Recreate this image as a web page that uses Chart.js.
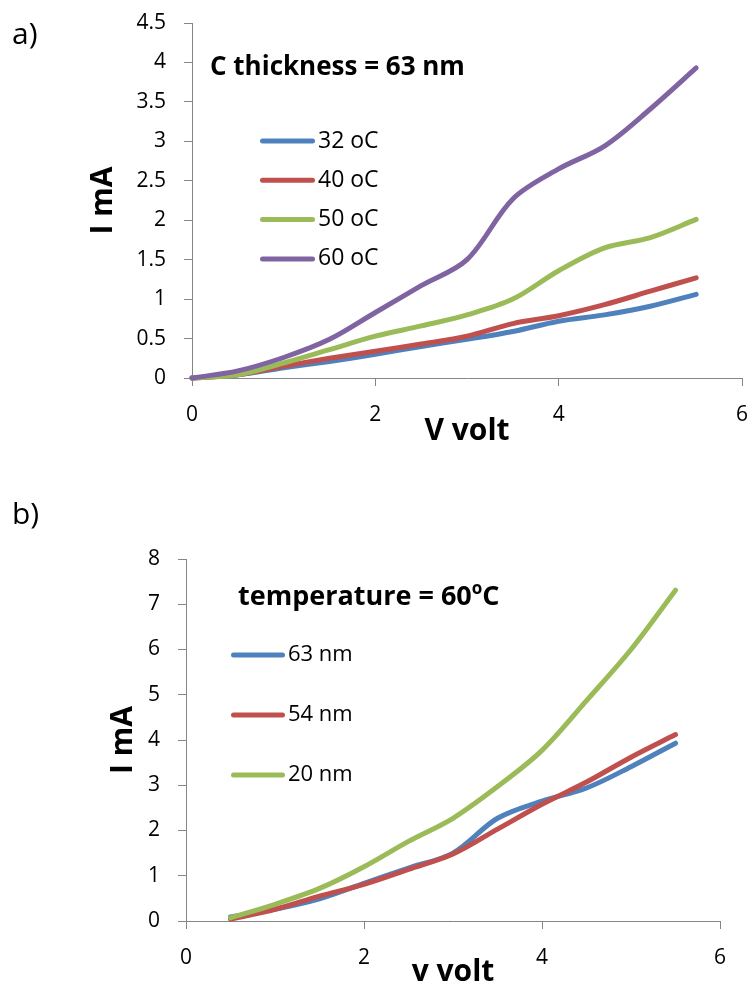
<!DOCTYPE html>
<html>
<head>
<meta charset="utf-8">
<script src="https://cdn.jsdelivr.net/npm/chart.js@4.4.0/dist/chart.umd.min.js"></script>
<style>
  html, body { margin: 0; padding: 0; background: #fff; overflow: hidden; }
  body { width: 750px; height: 985px; position: relative; }
  canvas { position: absolute; left: 0; }
  #chartA { top: 0; }
  #chartB { top: 470px; }
</style>
</head>
<body>
<canvas id="chartA" width="750" height="470"></canvas>
<canvas id="chartB" width="750" height="530"></canvas>
<script>
// panel a: current vs voltage, C thickness 63 nm, four temperatures
const voltA = [0, 0.5, 1, 1.5, 2, 2.5, 3, 3.5, 4, 4.5, 5, 5.5];
const tempLabels = ['32 oC', '40 oC', '50 oC', '60 oC'];
const cur32 = [0, 0.04, 0.13, 0.21, 0.30, 0.40, 0.49, 0.59, 0.72, 0.80, 0.91, 1.06];
const cur40 = [0, 0.04, 0.15, 0.25, 0.34, 0.43, 0.53, 0.69, 0.79, 0.93, 1.10, 1.27];
const cur50 = [0, 0.04, 0.19, 0.36, 0.53, 0.66, 0.80, 1.00, 1.36, 1.65, 1.78, 2.01];
const cur60 = [0, 0.09, 0.26, 0.49, 0.83, 1.17, 1.50, 2.27, 2.65, 2.94, 3.41, 3.93];

// panel b: current vs voltage at 60 C, three thicknesses
const voltB = [0.5, 1, 1.5, 2, 2.5, 3, 3.5, 4, 4.5, 5, 5.5];
const thickLabels = ['63 nm', '54 nm', '20 nm'];
const cur63 = [0.09, 0.26, 0.49, 0.83, 1.17, 1.50, 2.27, 2.65, 2.94, 3.41, 3.93];
const cur54 = [0.04, 0.26, 0.55, 0.81, 1.14, 1.48, 2.03, 2.58, 3.07, 3.62, 4.12];
const cur20 = [0.07, 0.37, 0.72, 1.20, 1.76, 2.27, 2.97, 3.77, 4.87, 6.00, 7.31];

const colors = ['#4F81BD', '#C0504D', '#9BBB59', '#8064A2'];
const axisGrey = '#868686';
const FONT = '"Open Sans", "Liberation Sans", sans-serif';

function toPoints(xs, ys) {
  return xs.map((x, i) => ({ x: x, y: ys[i] }));
}

function makeSets(xs, series, labels) {
  return series.map((ys, i) => ({
    label: labels[i],
    data: toPoints(xs, ys),
    borderColor: colors[i],
    backgroundColor: colors[i],
    borderWidth: 5,
    borderCapStyle: 'round',
    borderJoinStyle: 'round',
    pointRadius: 0,
    tension: 0.33,
    clip: false,
    order: series.length - 1 - i   // later series on top
  }));
}

// draws panel letter, bold heading and the in-plot legend
const notesPlugin = {
  id: 'notes',
  afterDraw(chart, args, o) {
    const ctx = chart.ctx;
    ctx.save();
    ctx.fillStyle = '#000';
    ctx.textBaseline = 'middle';
    ctx.textAlign = 'left';

    ctx.font = '30px ' + FONT;
    ctx.fillText(o.panel, o.panelX, o.panelY);

    // heading, pieces may be superscript
    let x = o.headX;
    o.heading.forEach(p => {
      const sup = p[1];
      ctx.font = 'bold ' + (sup ? Math.round(o.headSize * 0.62) : o.headSize) + 'px ' + FONT;
      ctx.fillText(p[0], x, sup ? o.headY - o.headSize * 0.3 : o.headY);
      x += ctx.measureText(p[0]).width;
    });

    // legend
    ctx.font = o.legSize + 'px ' + FONT;
    chart.data.datasets.forEach((ds, i) => {
      const y = o.legY + i * o.legGap;
      ctx.strokeStyle = ds.borderColor;
      ctx.lineWidth = 5;
      ctx.lineCap = 'round';
      ctx.beginPath();
      ctx.moveTo(o.legX + 2.5, y);
      ctx.lineTo(o.legX + o.legLen - 2.5, y);
      ctx.stroke();
      ctx.fillText(ds.label, o.legX + o.legLen + 3, y);
    });
    ctx.restore();
  }
};

function axes(xMax, yMax, yStep, yWidth, xHeight, yTitle, xTitle, yTitlePad, xTitlePad) {
  return {
    x: {
      type: 'linear',
      min: 0, max: xMax,
      // fixed box; label overhang is already covered by the layout padding
      afterFit(s) { s.height = xHeight; s.paddingLeft = 0; s.paddingRight = 0; },
      ticks: { stepSize: 2, color: '#000', padding: 16, font: { family: FONT, size: 21 },
               callback: v => String(v) },
      grid: { drawOnChartArea: false, drawTicks: true, tickLength: 8, color: axisGrey },
      border: { display: true, color: axisGrey, width: 1 },
      title: { display: true, text: xTitle, color: '#000', padding: { top: 0, bottom: xTitlePad },
               font: { family: FONT, size: 30, weight: 'bold' } }
    },
    y: {
      min: 0, max: yMax,
      afterFit(s) { s.width = yWidth; s.paddingTop = 0; s.paddingBottom = 0; },
      ticks: { stepSize: yStep, color: '#000', padding: 18, font: { family: FONT, size: 21 },
               callback: v => String(v) },
      grid: { drawOnChartArea: false, drawTicks: true, tickLength: 8, color: axisGrey },
      border: { display: true, color: axisGrey, width: 1 },
      title: { display: true, text: yTitle, color: '#000', padding: { top: yTitlePad, bottom: 0 },
               font: { family: FONT, size: 30, weight: 'bold' } }
    }
  };
}

new Chart(document.getElementById('chartA'), {
  type: 'line',
  data: { datasets: makeSets(voltA, [cur32, cur40, cur50, cur60], tempLabels) },
  plugins: [notesPlugin],
  options: {
    responsive: false,
    animation: false,
    layout: { padding: { left: 0, right: 8, top: 23, bottom: 0 } },
    scales: axes(6, 4.5, 0.5, 192, 92, 'I mA', 'V volt', 85, 21),
    plugins: {
      legend: { display: false },
      tooltip: { enabled: false },
      notes: {
        panel: 'a)', panelX: 12, panelY: 35,
        heading: [['C thickness = 63 nm', false]], headX: 210, headY: 68, headSize: 26,
        legX: 260, legLen: 55, legY: 141, legGap: 39.3, legSize: 23
      }
    }
  }
});

new Chart(document.getElementById('chartB'), {
  type: 'line',
  data: { datasets: makeSets(voltB, [cur63, cur54, cur20], thickLabels) },
  plugins: [notesPlugin],
  options: {
    responsive: false,
    animation: false,
    layout: { padding: { left: 0, right: 30, top: 89, bottom: 0 } },
    scales: axes(6, 8, 1, 186, 79, 'I mA', 'v volt', 105, 10),
    plugins: {
      legend: { display: false },
      tooltip: { enabled: false },
      notes: {
        panel: 'b)', panelX: 12, panelY: 45,
        heading: [['temperature = 60', false], ['o', true], ['C', false]], headX: 238, headY: 127, headSize: 27,
        legX: 231, legLen: 54, legY: 185, legGap: 60, legSize: 22
      }
    }
  }
});
</script>
</body>
</html>
